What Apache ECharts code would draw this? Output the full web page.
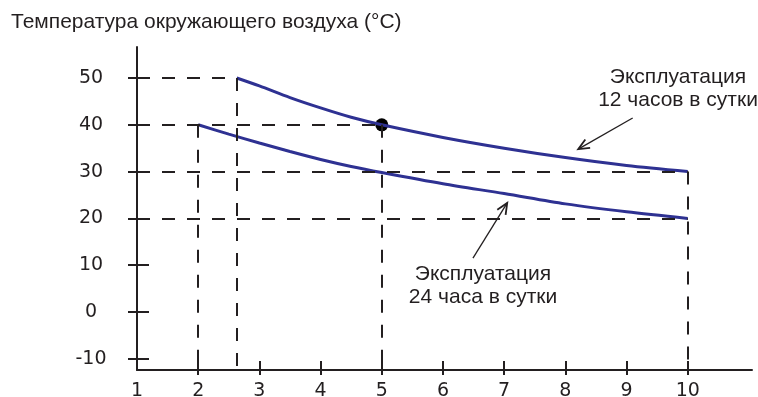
<!DOCTYPE html>
<html>
<head>
<meta charset="utf-8">
<script src="https://cdn.jsdelivr.net/npm/echarts@6/dist/echarts.min.js"></script>
<style>html,body{margin:0;padding:0;background:#fff}#c{width:758px;height:397px}</style>
</head>
<body>
<div id="c"></div>
<script>
// ---- data ----
const xTickValues = [2, 3, 4, 5, 6, 7, 8, 9, 10];
const xLabelValues = [1, 2, 3, 4, 5, 6, 7, 8, 9, 10];
const yTickValues = [-10, 0, 10, 20, 30, 40, 50];
const hours12X = [2.63, 3, 3.5, 4, 4.5, 5, 6, 7, 8, 9, 10];
const temp12Y  = [50, 48.3, 45.8, 43.6, 41.6, 40, 37.3, 35, 33, 31.3, 30];
const hours24X = [2, 2.5, 3, 3.5, 4, 4.5, 5, 6, 7, 8, 9, 10];
const temp24Y  = [40, 38, 36.1, 34.3, 32.6, 31.1, 29.8, 27.4, 25.3, 23.1, 21.4, 20];
const markedPoint = [5, 40];
// guides: horizontal [y, xEnd], vertical [x, yStart]
const guideH = [[50, 2.63], [40, 5], [30, 10], [20, 10]];
const guideV = [[2, 40], [2.63, 50], [5, 40], [10, 30]];
// arrows [xFrom, yFrom, xTo, yTo]
const arrows = [[9.10, 41.45, 8.21, 34.8], [6.49, 11.5, 7.05, 23.3]];
const titleText = 'Температура окружающего воздуха (°C)';
const label12 = 'Эксплуатация\n12 часов в сутки';
const label24 = 'Эксплуатация\n24 часа в сутки';

const X_MIN = 1, X_MAX = 11.05, Y_MIN = -12.39, Y_MAX = 56.62;
const INK = '#231F20', BLUE = '#2E3192';

const zip = (xs, ys) => xs.map((x, i) => [x, ys[i]]);
const guideLines = [];
guideH.forEach(([y, xe]) => guideLines.push([{coord: [X_MIN, y]}, {coord: [xe, y]}]));
guideV.forEach(([x, ys]) => guideLines.push([{coord: [x, ys]}, {coord: [x, Y_MIN]}]));

const chart = echarts.init(document.getElementById('c'), null, {renderer: 'canvas'});
const baseX = {type: 'value', min: X_MIN, max: X_MAX, splitLine: {show: false}};
const baseY = {type: 'value', min: Y_MIN, max: Y_MAX, splitLine: {show: false}};
chart.setOption({
  animation: false,
  backgroundColor: '#fff',
  title: {text: titleText, left: 6, top: 7,
    textStyle: {fontFamily: 'Liberation Sans, Arial', fontSize: 21, fontWeight: 'normal', color: INK}},
  grid: {left: 137, top: 47, right: 6, bottom: 27, containLabel: false, outerBoundsMode: 'none'},
  xAxis: [
    Object.assign({}, baseX, {position: 'bottom',
      axisLine: {show: true, onZero: false, lineStyle: {color: INK, width: 2}},
      axisTick: {show: true, inside: true, length: 9, customValues: xTickValues, lineStyle: {color: INK, width: 2}},
      axisLabel: {show: true, customValues: xLabelValues, margin: 12,
        fontFamily: 'DejaVu Sans', fontSize: 19, color: INK}}),
    Object.assign({}, baseX, {position: 'bottom', offset: 0,
      axisLine: {show: false, onZero: false},
      axisTick: {show: true, inside: false, length: 5, customValues: xTickValues, lineStyle: {color: INK, width: 2}},
      axisLabel: {show: false}})
  ],
  yAxis: [
    Object.assign({}, baseY, {position: 'left',
      axisLine: {show: true, onZero: false, lineStyle: {color: INK, width: 2}},
      axisTick: {show: true, inside: true, length: 12, customValues: yTickValues, lineStyle: {color: INK, width: 2}},
      axisLabel: {show: true, customValues: yTickValues, margin: 46, align: 'center',
        fontFamily: 'DejaVu Sans', fontSize: 19, color: INK}}),
    Object.assign({}, baseY, {position: 'left', offset: 0,
      axisLine: {show: false, onZero: false},
      axisTick: {show: true, inside: false, length: 9, customValues: yTickValues, lineStyle: {color: INK, width: 2}},
      axisLabel: {show: false}})
  ],
  series: [
    {type: 'line', data: [], xAxisIndex: 0, yAxisIndex: 0, silent: true,
      markLine: {silent: true, symbol: ['none', 'none'], label: {show: false},
        lineStyle: {color: INK, width: 2, type: [13, 12]}, data: guideLines}},
    {type: 'line', data: zip(hours12X, temp12Y), smooth: 0.3, showSymbol: false,
      lineStyle: {color: BLUE, width: 3}},
    {type: 'line', data: zip(hours24X, temp24Y), smooth: 0.3, showSymbol: false,
      lineStyle: {color: BLUE, width: 3}},
    {type: 'scatter', data: [markedPoint], symbolSize: 13, itemStyle: {color: '#000', opacity: 1}},
    {type: 'custom', data: arrows, clip: false, encode: {x: [0, 2], y: [1, 3]},
      renderItem: function (params, api) {
        const p0 = api.coord([api.value(0), api.value(1)]);
        const p1 = api.coord([api.value(2), api.value(3)]);
        const ang = Math.atan2(p1[1] - p0[1], p1[0] - p0[0]);
        const L = 12, s = 0.42;
        const h1 = [p1[0] - L * Math.cos(ang - s), p1[1] - L * Math.sin(ang - s)];
        const h2 = [p1[0] - L * Math.cos(ang + s), p1[1] - L * Math.sin(ang + s)];
        return {type: 'group', children: [
          {type: 'line', shape: {x1: p0[0], y1: p0[1], x2: p1[0], y2: p1[1]}, style: {stroke: INK, lineWidth: 1.3}},
          {type: 'polyline', shape: {points: [h1, p1, h2]}, style: {stroke: INK, lineWidth: 1.8, fill: null}}
        ]};
      }}
  ],
  graphic: [
    {type: 'text', x: 678, y: 89, style: {text: label12, fontFamily: 'Liberation Sans, Arial', fontSize: 21,
      lineHeight: 23, fill: INK, align: 'center', verticalAlign: 'middle'}},
    {type: 'text', x: 483, y: 286, style: {text: label24, fontFamily: 'Liberation Sans, Arial', fontSize: 21,
      lineHeight: 23, fill: INK, align: 'center', verticalAlign: 'middle'}}
  ]
});
</script>
</body>
</html>
